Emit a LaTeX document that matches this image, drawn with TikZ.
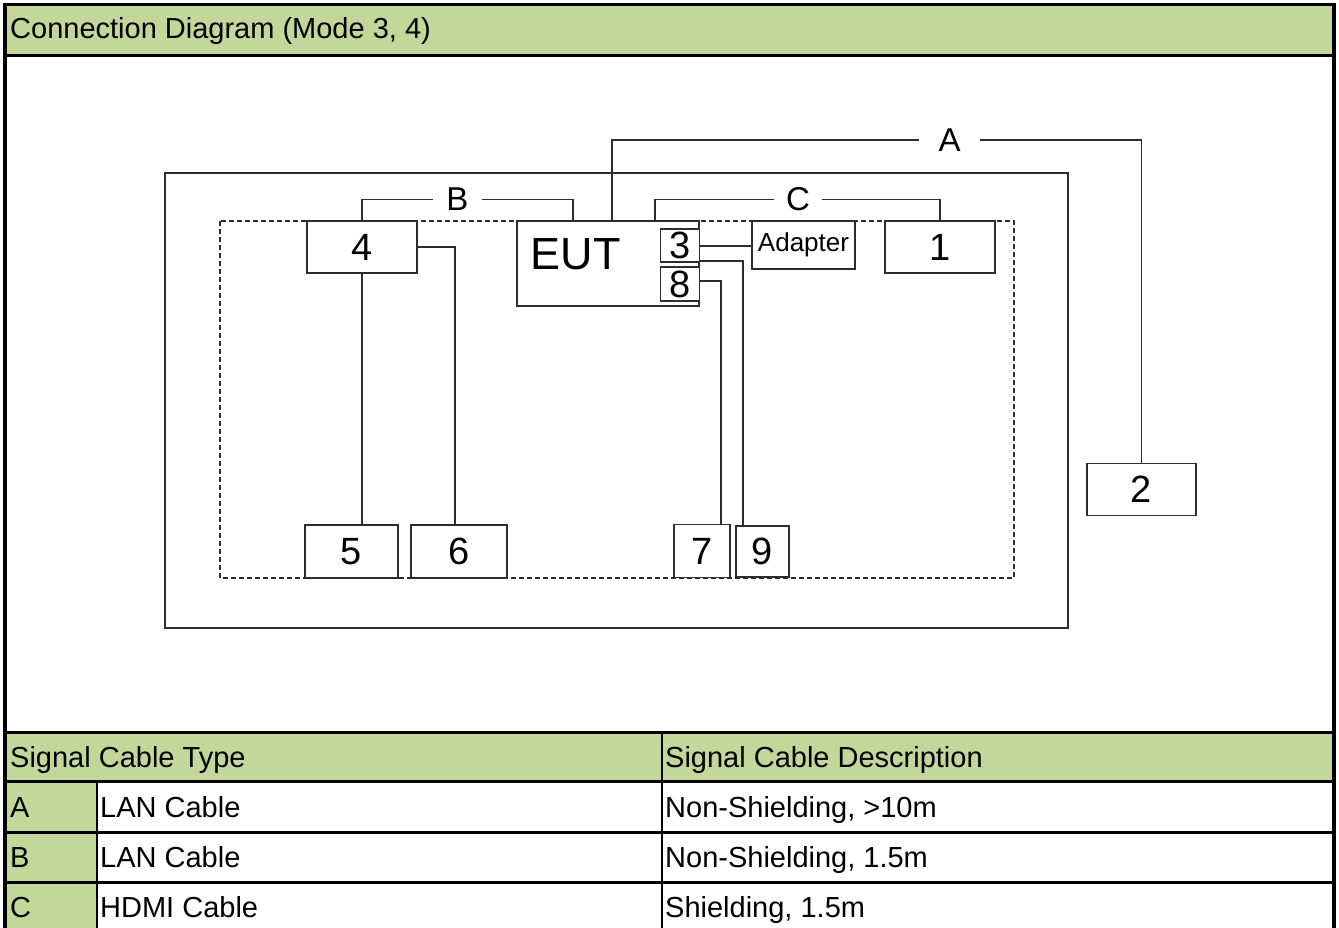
\documentclass[tikz,border=0pt]{standalone}
\usepackage{fontspec}
\setmainfont{Liberation Sans}
\usepackage{tikz}

\definecolor{hdrgreen}{RGB}{196,215,155}
\definecolor{wire}{RGB}{45,45,45}

\begin{document}
\begin{tikzpicture}[x=1pt,y=1pt]
            \tikzstyle{every node}+=[inner sep=0pt]
            \tikzstyle{devbox}=[draw=wire, line width=1.7pt, fill=white, font=\fontsize{38}{38}\selectfont]
            \tikzstyle{cable}=[draw=wire, line width=1.7pt]
            \tikzstyle{cablelbl}=[font=\fontsize{33}{33}\selectfont]
            \tikzstyle{celltxt}=[anchor=base west, font=\fontsize{29}{29}\selectfont]
            \tikzstyle{tblrule}=[black, line width=2.6pt]
            \useasboundingbox (0,0) rectangle (1339,-928);
            % frame and table fills
            \fill [hdrgreen] (5,-4.5) rectangle (1334,-55.5);
            \fill [hdrgreen] (5,-732.5) rectangle (1334,-781.5);
            \fill [hdrgreen] (5,-781.5) rectangle (97,-928);
            \draw [tblrule] (3,-4.5) -- (1336,-4.5);
            \draw [tblrule] (5,-55.5) -- (1334,-55.5);
            \draw [tblrule] (5,-732.5) -- (1334,-732.5);
            \draw [tblrule] (5,-781.5) -- (1334,-781.5);
            \draw [tblrule] (5,-832.5) -- (1334,-832.5);
            \draw [tblrule] (5,-882.5) -- (1334,-882.5);
            \draw [tblrule] (97,-781.5) -- (97,-928);
            \draw [tblrule] (662,-732.5) -- (662,-928);
            \draw [black, line width=4pt] (5,-3) -- (5,-928);
            \draw [black, line width=4pt] (1334,-3) -- (1334,-928);
            \node [celltxt] (title) at (10,-39) {Connection Diagram (Mode 3, 4)};
            % room and table outline
            \draw [wire, line width=1.7pt] (165,-173) rectangle (1068,-628);
            \draw [wire, line width=1.3pt, dash pattern=on 5pt off 3pt] (220,-221) rectangle (1014,-578);
            % units
            \node [devbox, minimum width=110pt, minimum height=52pt] (dev4) at (362,-247) {4};
            \node [devbox, minimum width=110pt, minimum height=52pt] (dev1) at (940,-247) {1};
            \node [devbox, minimum width=109pt, minimum height=52pt] (dev2) at (1141.5,-489.5) {2};
            \node [devbox, minimum width=93pt, minimum height=53pt] (dev5) at (351.5,-551.5) {5};
            \node [devbox, minimum width=96pt, minimum height=53pt] (dev6) at (459,-551.5) {6};
            \node [devbox, minimum width=56pt, minimum height=53pt] (dev7) at (702,-551) {7};
            \node [devbox, minimum width=53pt, minimum height=51pt] (dev9) at (762.5,-551.5) {9};
            \node [devbox, minimum width=103pt, minimum height=48pt, font=\fontsize{26}{26}\selectfont] (adapter) at (803.5,-245) {Adapter};
            \node [devbox, minimum width=182pt, minimum height=85pt] (eut) at (608,-263.5) {};
            \node [font=\fontsize{45}{45}\selectfont] (euttxt) at (575.5,-254) {EUT};
            \node [devbox, minimum width=39pt, minimum height=33pt] (port3) at (680,-245.8) {3};
            \node [devbox, minimum width=39pt, minimum height=34pt] (port8) at (680,-284) {8};
            % cable labels
            \node [cablelbl, minimum width=61pt] (labA) at (949.5,-140) {A};
            \node [cablelbl, minimum width=49pt] (labB) at (457.5,-199.5) {B};
            \node [cablelbl, minimum width=48pt] (labC) at (798,-199.5) {C};
            % cables
            \draw [cable] ([xshift=96pt]eut.north west) |- (labA.west);
            \draw [cable] (labA.east) -| (dev2.north);
            \draw [cable] (dev4.north) |- (labB.west);
            \draw [cable] (labB.east) -| ([xshift=57pt]eut.north west);
            \draw [cable] ([xshift=139pt]eut.north west) |- (labC.west);
            \draw [cable] (labC.east) -| (dev1.north);
            \draw [cable] (dev4.south) -- (dev4.south |- dev5.north);
            \draw [cable] (dev4.east) -| ([xshift=-4pt]dev6.north);
            \draw [cable] (port3.east) -- (port3.east -| adapter.west);
            \draw [cable] ([yshift=-15pt]port3.east) -| ([xshift=-19.5pt]dev9.north);
            \draw [cable] ([yshift=3pt]port8.east) -| ([xshift=19pt]dev7.north);
            % cable table
            \node [celltxt] (hdrType) at (10,-767) {Signal Cable Type};
            \node [celltxt] (hdrDesc) at (665,-767) {Signal Cable Description};
            \node [celltxt] (typA) at (10,-817) {A};
            \node [celltxt] (nameA) at (100,-817) {LAN Cable};
            \node [celltxt] (descA) at (665,-817) {Non-Shielding, >10m};
            \node [celltxt] (typB) at (10,-867) {B};
            \node [celltxt] (nameB) at (100,-867) {LAN Cable};
            \node [celltxt] (descB) at (665,-867) {Non-Shielding, 1.5m};
            \node [celltxt] (typC) at (10,-917) {C};
            \node [celltxt] (nameC) at (100,-917) {HDMI Cable};
            \node [celltxt] (descC) at (665,-917) {Shielding, 1.5m};
            \end{tikzpicture}
\end{document}
